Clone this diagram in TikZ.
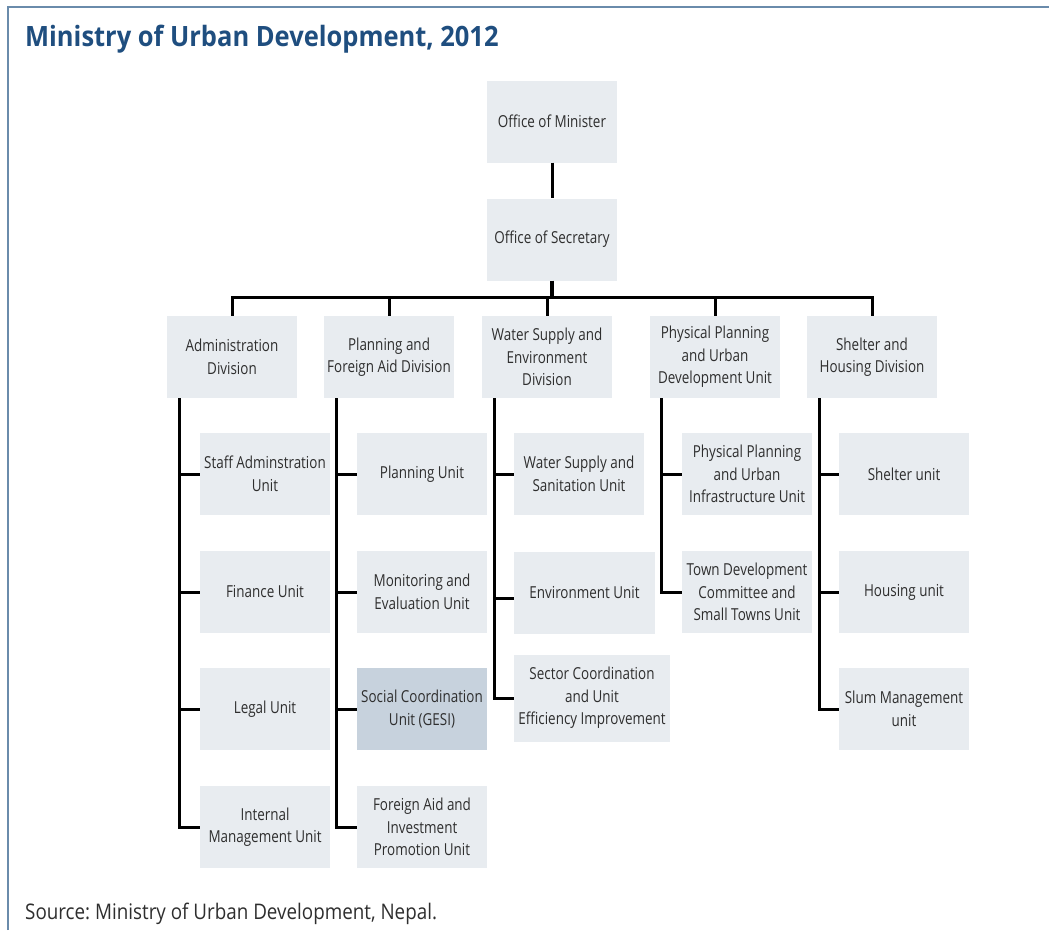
\documentclass[tikz,border=0pt]{standalone}
\usepackage{fontspec}
\setmainfont{Open Sans}[FakeStretch=0.815]
\newfontfamily\titlefont{Open Sans}[FakeStretch=0.91]
\newfontfamily\srcfont{Open Sans}[FakeStretch=0.875]
\definecolor{boxfill}{HTML}{E8ECF0}
\definecolor{gesifill}{HTML}{C7D2DD}
\definecolor{frame}{HTML}{6A8BAB}
\definecolor{titleblue}{HTML}{1F4E7F}
\definecolor{txt}{HTML}{2E2E2E}
\frenchspacing
\begin{document}
\begin{tikzpicture}[x=1pt,y=-1pt,
  unit/.style={fill=boxfill, draw=none, inner sep=0pt, minimum width=130pt, minimum height=82pt,
    align=center, text=txt, font=\fontsize{16.5}{22.5}\selectfont},
  conn/.style={draw=black, line width=3pt, line join=miter},
]
\useasboundingbox (0,0) rectangle (1049,930);
% frame
\draw[frame, line width=2pt] (8.3,930) -- (8.3,7.3) -- (1049,7.3);
% title
\node[anchor=base west, inner sep=0pt, text=titleblue, font=\titlefont\bfseries\fontsize{28}{30}\selectfont] (title) at (25,46.7) {Ministry of Urban Development, 2012};
% top
\node[unit] (min) at (552,121.5) {Office of Minister};
\node[unit] (sec) at (552,239.5) {Office of Secretary};
% divisions
\node[unit] (adm) at (232,357) {Administration\\Division};
\node[unit] (pla) at (389,357) {Planning and\\Foreign Aid Division};
\node[unit] (wat) at (547,357) {Water Supply and\\Environment\\Division};
\node[unit] (phy) at (715,357) {Physical Planning\\and Urban\\Development Unit};
\node[unit] (shl) at (872,357) {Shelter and\\Housing Division};
% admin units
\node[unit] (staff) at (265,474) {Staff Adminstration\\Unit};
\node[unit] (fin) at (265,592) {Finance Unit};
\node[unit] (leg) at (265,709) {Legal Unit};
\node[unit] (imu) at (265,827) {Internal\\Management Unit};
% planning units
\node[unit] (plu) at (422,474) {Planning Unit};
\node[unit] (mon) at (422,592) {Monitoring and\\Evaluation Unit};
\node[unit, fill=gesifill] (gesi) at (422,709) {Social Coordination\\Unit (GESI)};
\node[unit] (fai) at (422,827) {Foreign Aid and\\Investment\\Promotion Unit};
% water units
\node[unit] (wss) at (579,474) {Water Supply and\\Sanitation Unit};
\node[unit, minimum width=141pt] (env) at (584.5,592.5) {Environment Unit};
\node[unit, minimum width=156pt, minimum height=87pt] (sco) at (592,698) {Sector Coordination\\and Unit\\Efficiency Improvement};
% physical units
\node[unit] (ppi) at (747,474) {Physical Planning\\and Urban\\Infrastructure Unit};
\node[unit] (tdc) at (747,592) {Town Development\\Committee and\\Small Towns Unit};
% shelter units
\node[unit] (shu) at (904,474) {Shelter unit};
\node[unit] (hou) at (904,592) {Housing unit};
\node[unit] (slu) at (904,709) {Slum Management\\unit};
% source
\node[anchor=base west, inner sep=0pt, text=txt, font=\srcfont\fontsize{21.5}{24}\selectfont] (src) at (25,919) {Source: Ministry of Urban Development, Nepal.};
% connectors top
\coordinate (bus) at (0,297.5);
\draw[conn] (min.south) -- (sec.north);
\draw[conn, line width=4pt] (sec.south) -- (sec.south |- bus);
\draw[conn] (adm.north) -- (adm.north |- bus) -- (shl.north |- bus) -- (shl.north);
\foreach \d in {pla,wat,phy} \draw[conn] (\d.north) -- (\d.north |- bus);
% spines
\coordinate (admS) at ([xshift=13pt]adm.south west);
\coordinate (plaS) at ([xshift=13pt]pla.south west);
\coordinate (watS) at ([xshift=13pt]wat.south west);
\coordinate (phyS) at ([xshift=12pt]phy.south west);
\coordinate (shlS) at ([xshift=13pt]shl.south west);
\draw[conn] (admS) |- (imu.west);
\foreach \u in {staff,fin,leg} \draw[conn] (\u.west) -- (\u.west -| admS);
\draw[conn] (plaS) |- (fai.west);
\foreach \u in {plu,mon,gesi} \draw[conn] (\u.west) -- (\u.west -| plaS);
\draw[conn] (watS) |- (sco.west);
\draw[conn] (wss.west) -- (wss.west -| watS);
\draw[conn] ([yshift=-6pt]env.west) -- ([yshift=-6pt]env.west -| watS);
\draw[conn] (phyS) |- (tdc.west);
\draw[conn] (ppi.west) -- (ppi.west -| phyS);
\draw[conn] (shlS) |- (slu.west);
\foreach \u in {shu,hou} \draw[conn] (\u.west) -- (\u.west -| shlS);
\end{tikzpicture}
\end{document}
